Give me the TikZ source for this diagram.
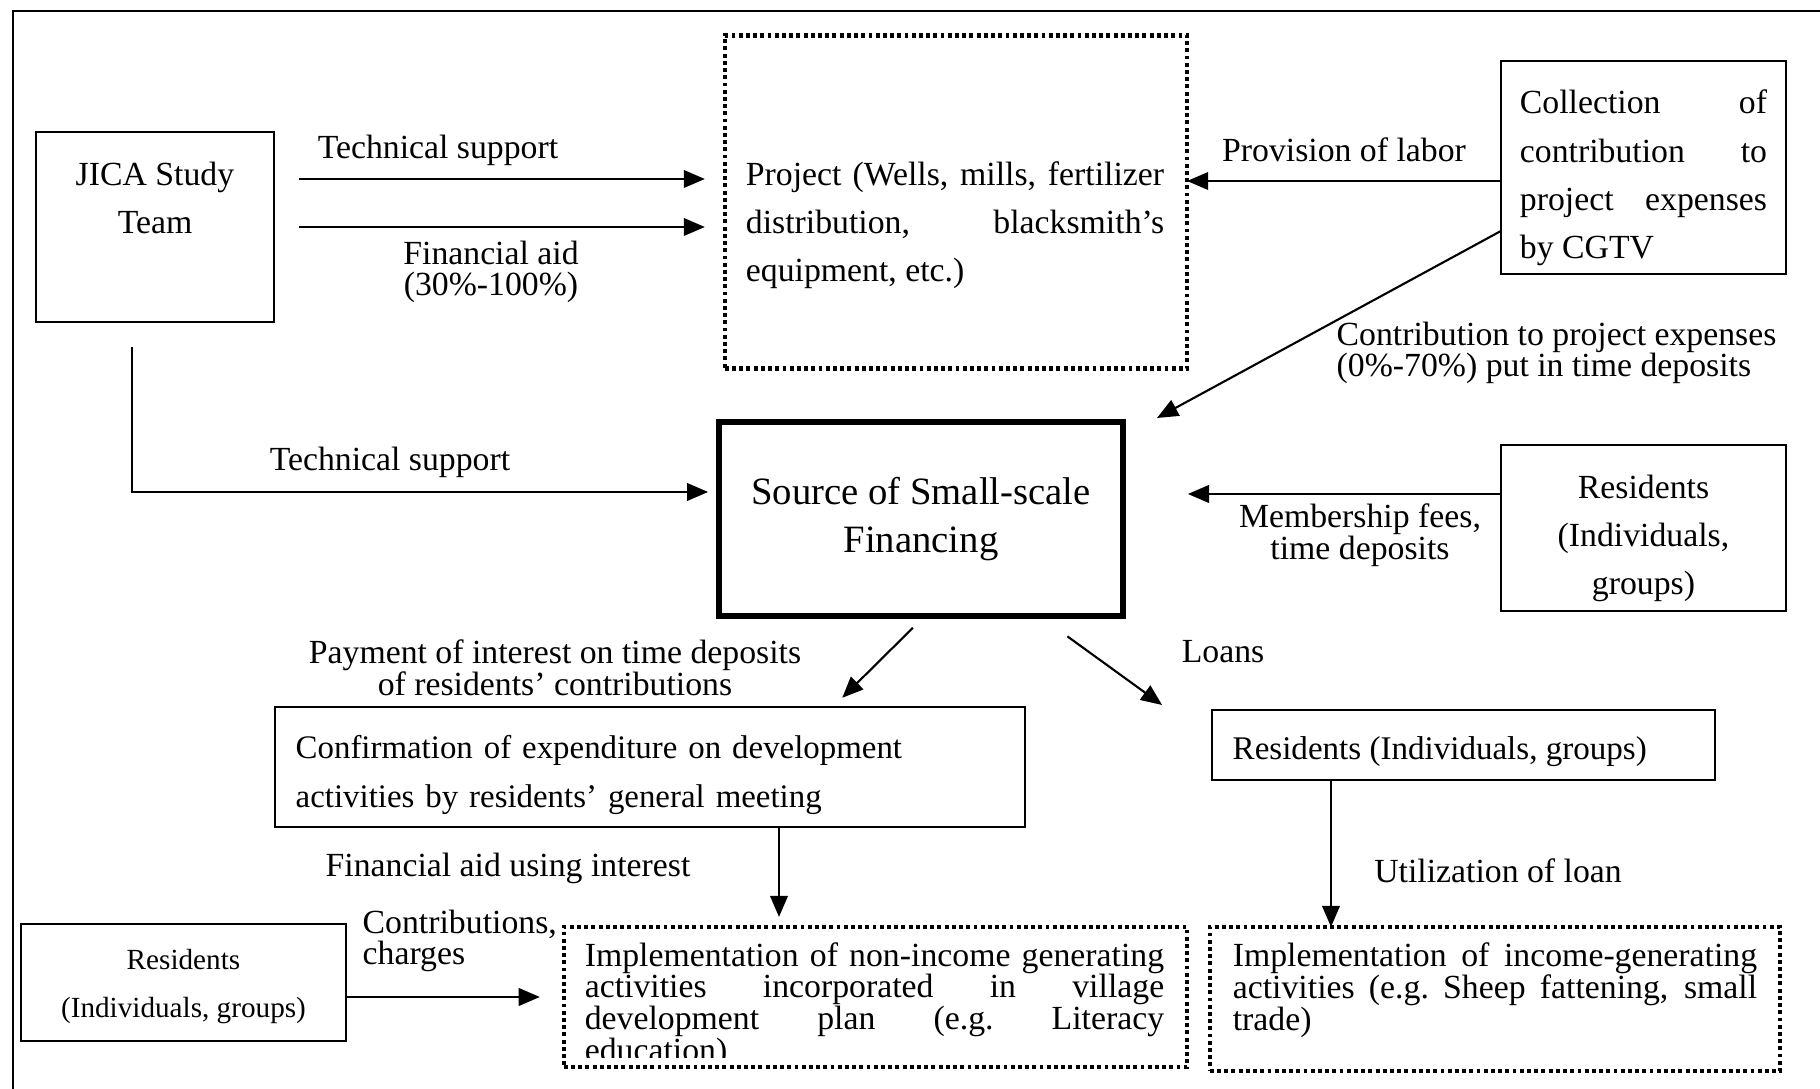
\documentclass[tikz,border=0pt]{standalone}
\usepackage{fontspec}
\setmainfont{Liberation Serif}
\usetikzlibrary{arrows.meta}
\tolerance=10000
\hyphenpenalty=10000
\newcommand{\bodyfont}{\fontsize{9.6}{13.7}\selectfont}
\newcommand{\lblfont}{\fontsize{9.6}{9.0}\selectfont}
\tikzset{
  box/.style={draw, line width=0.6pt, inner sep=0pt, outer sep=0pt},
  dotbox/.style={draw, line width=1.25pt, dash pattern=on 1.1pt off 0.95pt, inner sep=0pt, outer sep=0pt},
  boxtext/.style={inner sep=0pt, font=\bodyfont},
  lbl/.style={inner sep=0pt, font=\lblfont},
  arr/.style={line width=0.6pt, -{Triangle[length=6pt,width=5pt]}}
}
\begin{document}
\begin{tikzpicture}[x=0.01cm, y=-0.01cm]
  \useasboundingbox (0,0) rectangle (1820,1089);
  % frame
  \draw[line width=0.6pt] (13,1089) -- (13,11) -- (1820,11);

  % boxes
  \node[box, minimum width=2.38cm, minimum height=1.90cm] (jica) at (155,227) {};
  \node[boxtext, align=center] (jicatxt) at (155,198) {JICA Study\\Team};
  \node[dotbox, minimum width=4.62cm, minimum height=3.33cm] (proj) at (956,202) {};
  \node[boxtext, text width=4.18cm, align=justify] (projtxt) at (955,225.5)
    {Project (Wells, mills, fertilizer\linebreak distribution, blacksmith's\linebreak equipment, etc.)};
  \node[box, minimum width=2.85cm, minimum height=2.13cm] (coll) at (1643.5,167.5) {};
  \node[boxtext, text width=2.47cm, align=justify] (colltxt) at (1643.5,178)
    {Collection of\linebreak contribution to\linebreak project expenses\linebreak by CGTV};
  \node[draw, line width=1.85pt, inner sep=0pt, outer sep=0pt, minimum width=4.035cm,
    minimum height=1.935cm, align=center, font=\fontsize{11}{13.65}\selectfont] (src) at (921,519)
    {Source of Small-scale\\Financing};
  \node[box, minimum width=2.85cm, minimum height=1.66cm] (resR) at (1643.5,528) {};
  \node[boxtext, align=center] (resRtxt) at (1643.5,538.5) {Residents\\(Individuals,\\groups)};
  \node[box, minimum width=7.50cm, minimum height=1.20cm] (conf) at (650,767) {};
  \node[boxtext, anchor=west, text width=6.4cm, align=left, font=\fontsize{9.35}{13.9}\selectfont]
    (conftxt) at (295,775)
    {Confirmation of expenditure on development\\activities by residents' general meeting};
  \node[box, minimum width=5.03cm, minimum height=0.70cm] (resM) at (1463.5,745) {};
  \node[boxtext, anchor=west, font=\fontsize{9.4}{13.7}\selectfont] (resMtxt) at (1232,752)
    {Residents (Individuals, groups)};
  \node[box, minimum width=3.25cm, minimum height=1.17cm] (resL) at (183.5,982.5) {};
  \node[boxtext, align=center, font=\fontsize{8.3}{13.65}\selectfont] (resLtxt) at (183.5,986.5)
    {Residents\\(Individuals, groups)};
  \node[dotbox, minimum width=6.23cm, minimum height=1.40cm] (nonInc) at (875.5,997) {};
  \begin{scope}
    \clip ([yshift=0.1cm]nonInc.south west) rectangle (nonInc.north east);
    \node[boxtext, text width=5.79cm, align=justify, font=\fontsize{9.6}{9.0}\selectfont] (nonInctxt)
      at (874.5,1005.5) {Implementation of non-income generating\linebreak activities incorporated in village\linebreak
      development plan (e.g.\ Literacy\linebreak education)};
  \end{scope}
  \node[dotbox, minimum width=5.70cm, minimum height=1.44cm] (inc) at (1495,999) {};
  \node[boxtext, text width=5.24cm, align=justify, font=\fontsize{9.6}{9.1}\selectfont] (inctxt)
    at (1495,990.5) {Implementation of income-generating\linebreak activities (e.g.\ Sheep fattening, small\linebreak trade)};

  % connectors
  \coordinate (dtip) at (1157,418);
  \draw[arr, shorten <=0.25cm, shorten >=0.20cm] (jica.east |- 0,179) -- (proj.west |- 0,179);
  \draw[arr, shorten <=0.25cm, shorten >=0.20cm] (jica.east |- 0,227) -- (proj.west |- 0,227);
  \draw[arr] (coll.west |- 0,181) -- (proj.east |- 0,181);
  \draw[arr] (coll.west |- 0,231) -- (dtip);
  \draw[arr, shorten <=0.25cm, shorten >=0.11cm] (jica.south -| 132,0) |- (src.west |- 0,492);
  \draw[arr, shorten >=0.65cm] (resR.west |- 0,494) -- (src.east |- 0,494);
  \draw[arr, shorten <=0.17cm, shorten >=0.13cm] (src.south -| 925,0) -- (conf.north -| 833,0);
  \draw[arr, shorten <=0.35cm, shorten >=0.085cm] (src.south -| 1039,0) -- (resM.north -| 1169,0);
  \draw[arr, shorten >=0.10cm] (conf.south -| 779,0) -- (nonInc.north -| 779,0);
  \draw[arr] (resM.south -| 1331,0) -- (inc.north -| 1331,0);
  \draw[arr, shorten >=0.24cm] (resL.east |- 0,997) -- (nonInc.west |- 0,997);

  % labels
  \node[lbl] (tsupA) at (438,150) {Technical support};
  \node[lbl, align=center] (faid) at (491,272) {Financial aid\\(30\%-100\%)};
  \node[lbl] (labor) at (1344,150) {Provision of labor};
  \node[lbl, anchor=west, align=left] (contrib) at (1336,353)
    {Contribution to project expenses\\(0\%-70\%) put in time deposits};
  \node[lbl] (tsupB) at (390,462) {Technical support};
  \node[lbl, align=center] (member) at (1360,535) {Membership fees,\\time deposits};
  \node[lbl, align=center] (payint) at (555,668)
    {Payment of interest on time deposits\\of residents' contributions};
  \node[lbl] (loans) at (1223,652) {Loans};
  \node[lbl] (finint) at (508,868) {Financial aid using interest};
  \node[lbl] (util) at (1498,871) {Utilization of loan};
  \node[lbl, anchor=west, align=left] (contr) at (362,941) {Contributions,\\charges};
\end{tikzpicture}
\end{document}
